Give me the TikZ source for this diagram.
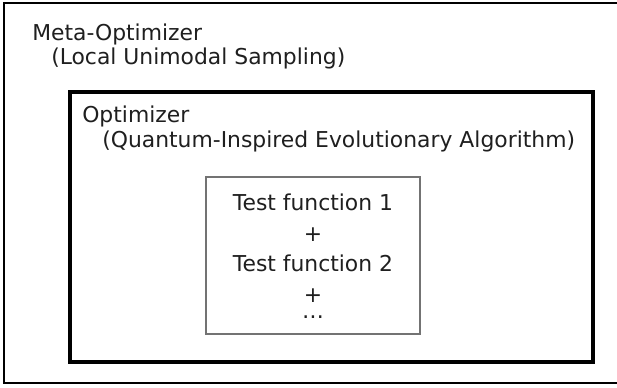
\documentclass[tikz,border=0pt]{standalone}
\usepackage{fontspec}
\setmainfont{DejaVu Sans}
\begin{document}
\begin{tikzpicture}[x=0.75pt,y=-0.75pt,
  lbl/.style={inner sep=0pt,anchor=base west,text=black!88,font=\fontsize{16.4}{22.9}\selectfont},
  clbl/.style={inner sep=0pt,anchor=base,align=center,text=black!88,font=\fontsize{16.4}{22.9}\selectfont},
  outerbox/.style={draw=black,line width=0.9pt},
  optbox/.style={draw=black,line width=2.6pt},
  testbox/.style={draw=black!55,line width=1.1pt}]
\useasboundingbox (0,0) rectangle (617,387);
\clip (0,0) rectangle (617,387);
\fill[white] (0,0) rectangle (617,387);
\draw[outerbox] (4,3) rectangle (640,383);
\node[lbl] (meta) at (32,40) {Meta-Optimizer};
\node[lbl] (lus) at (51,64) {(Local Unimodal Sampling)};
\draw[optbox] (70,92) rectangle (593,362);
\node[lbl] (opt) at (82,122) {Optimizer};
\node[lbl] (qiea) at (102,147) {(Quantum-Inspired Evolutionary Algorithm)};
\draw[testbox] (206,177) rectangle (420,334);
\node[clbl] (tests) at (313,318.5) {Test function 1\\+\\Test function 2\\+\\[-10.9pt]\ldots};
\end{tikzpicture}
\end{document}
